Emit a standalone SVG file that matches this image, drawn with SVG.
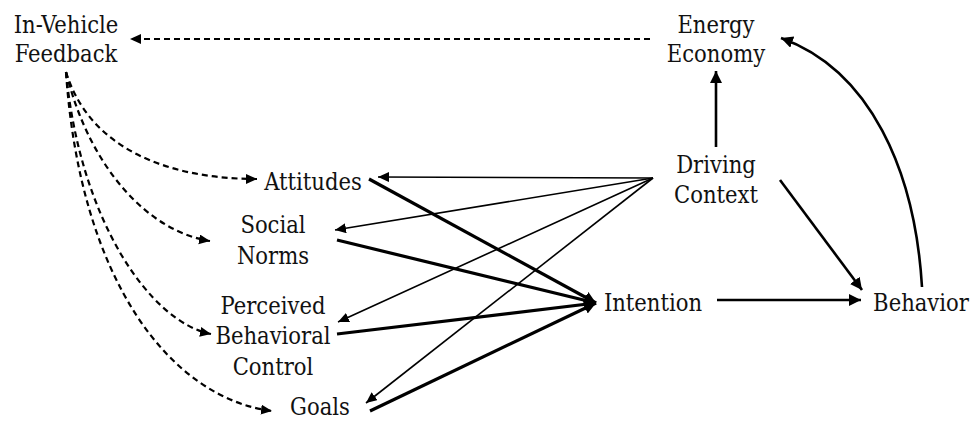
<svg xmlns="http://www.w3.org/2000/svg" width="975" height="422" viewBox="0 0 975 422">
<style>
text{font-family:"DejaVu Serif Condensed","DejaVu Serif","Liberation Serif",serif;font-stretch:condensed;font-size:23.5px;fill:#111;text-anchor:middle}
.d{fill:none;stroke:#000;stroke-width:2.2;stroke-dasharray:6 4}
.t{fill:none;stroke:#000;stroke-width:1.6}
.k{fill:none;stroke:#000;stroke-width:3.2}
.m{fill:none;stroke:#000;stroke-width:2.6}
</style>
<defs>
<marker id="a" markerUnits="userSpaceOnUse" markerWidth="14" markerHeight="14" refX="12" refY="6" orient="auto"><path d="M0,0 L12,6 L0,12 Z" fill="#000"/></marker>
<marker id="s" markerUnits="userSpaceOnUse" markerWidth="14" markerHeight="14" refX="11" refY="5" orient="auto"><path d="M0,0 L11,5 L0,10 Z" fill="#000"/></marker>
</defs>
<g id="connectors">
<path class="d" d="M650,39 L130,39" marker-end="url(#s)"/>
<path class="d" d="M66,72 C90,150 170,179 257,179" marker-end="url(#s)"/>
<path class="d" d="M66,72 C90,170 150,232 210,241" marker-end="url(#s)"/>
<path class="d" d="M66,72 C80,220 150,322 211,334" marker-end="url(#s)"/>
<path class="d" d="M66,72 C80,280 170,398 272,411" marker-end="url(#s)"/>
<path class="m" d="M716,147 L716,71" marker-end="url(#a)"/>
<path class="m" d="M922,287 C915,170 870,70 781,38" marker-end="url(#a)"/>
<path class="m" d="M780,180 L862,290" marker-end="url(#a)"/>
<path class="m" d="M717,300 L861,300" marker-end="url(#a)"/>
<path class="t" d="M653,178 L378,177" marker-end="url(#s)"/>
<path class="t" d="M653,178 L335,230" marker-end="url(#s)"/>
<path class="t" d="M653,178 L338,322" marker-end="url(#s)"/>
<path class="t" d="M653,178 L366,403" marker-end="url(#s)"/>
<path class="k" d="M369,179 L596,303" marker-end="url(#a)"/>
<path class="k" d="M337,240 L596,303" marker-end="url(#a)"/>
<path class="k" d="M337,334 L596,303" marker-end="url(#a)"/>
<path class="k" d="M370,411 L596,303" marker-end="url(#a)"/>
</g>
<g id="feedback"><text x="66" y="33">In-Vehicle</text><text x="66" y="62">Feedback</text></g>
<g id="energy"><text x="716" y="33">Energy</text><text x="716" y="62">Economy</text></g>
<g id="driving"><text x="716" y="173">Driving</text><text x="716" y="203">Context</text></g>
<g id="attitudes"><text x="313" y="190">Attitudes</text></g>
<g id="norms"><text x="273" y="233">Social</text><text x="273" y="264">Norms</text></g>
<g id="pbc"><text x="273" y="314">Perceived</text><text x="273" y="344">Behavioral</text><text x="273" y="375">Control</text></g>
<g id="goals"><text x="320" y="415">Goals</text></g>
<g id="intention"><text x="653" y="311">Intention</text></g>
<g id="behavior"><text x="921" y="311">Behavior</text></g>
</svg>
